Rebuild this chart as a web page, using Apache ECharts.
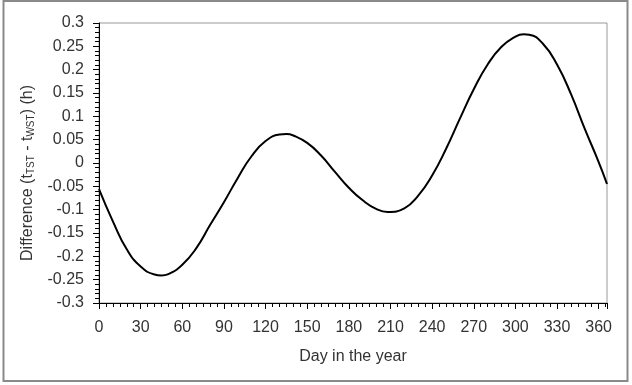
<!DOCTYPE html>
<html>
<head>
<meta charset="utf-8">
<script src="https://cdn.jsdelivr.net/npm/echarts@6/dist/echarts.min.js"></script>
<style>
html, body { margin: 0; padding: 0; background: #fff; }
#chart { width: 632px; height: 385px; }
</style>
</head>
<body>
<div id="chart"></div>
<script>
// day of the year
var days = [0, 10, 20, 30, 40, 45, 50, 60, 70, 80, 90, 100, 110, 120, 130, 135, 140, 150, 160, 170,
	180, 190, 200, 208, 220, 230, 240, 250, 260, 270, 280, 290, 300, 306, 310, 320, 330, 340, 350, 360, 366];
// difference tTST - tWST in hours
var diff = [-0.056, -0.125, -0.185, -0.222, -0.239, -0.241, -0.238, -0.218, -0.183, -0.133, -0.084, -0.032, 0.015, 0.047, 0.061, 0.062, 0.059, 0.043, 0.016, -0.019,
	-0.053, -0.080, -0.099, -0.105, -0.097, -0.070, -0.027, 0.030, 0.095, 0.158, 0.211, 0.249, 0.271, 0.276, 0.275, 0.255, 0.211, 0.148, 0.073, 0.002, -0.045];

var points = [];
for (var i = 0; i < days.length; i++) {
	points.push([days[i], diff[i]]);
}

var font = '"Liberation Sans", Arial, sans-serif';
var txt = '#333';

var chart = echarts.init(document.getElementById('chart'));
var option = {
	animation: false,
	textStyle: { fontFamily: font },
	graphic: [{
		type: 'rect',
		shape: { x: 3.5, y: 1, width: 624, height: 380 },
		style: { fill: 'none', stroke: '#8a8a8a', lineWidth: 2 },
		silent: true
	}],
	grid: {
		left: 99,
		right: 25,
		top: 23,
		bottom: 82,
		show: true,
		borderColor: '#999',
		borderWidth: 1
	},
	xAxis: {
		type: 'value',
		min: 0,
		max: 366,
		interval: 30,
		name: 'Day in the year',
		nameLocation: 'middle',
		nameGap: 46,
		nameTextStyle: { color: txt, fontSize: 16, fontFamily: font },
		axisLine: { onZero: false, lineStyle: { color: '#000', width: 1 } },
		axisTick: { length: 6, lineStyle: { color: '#000' } },
		minorTick: { show: true, splitNumber: 6, length: 4, lineStyle: { color: '#000' } },
		axisLabel: { color: txt, fontSize: 16, margin: 17, showMaxLabel: false },
		splitLine: { show: false }
	},
	yAxis: {
		type: 'value',
		min: -0.3,
		max: 0.3,
		interval: 0.05,
		name: '{n|Difference (t}{s|TST}{n| - t}{s|WST}{n|) (h)}',
		nameLocation: 'middle',
		nameGap: 62,
		nameTextStyle: {
			color: txt,
			fontSize: 16,
			fontFamily: font,
			padding: [0, 20, 0, 0],
			rich: {
				n: { fontSize: 16, fontFamily: font, color: txt, lineHeight: 18, verticalAlign: 'middle' },
				s: { fontSize: 10, fontFamily: font, color: txt, lineHeight: 18, verticalAlign: 'bottom', padding: [6, 0, 0, 0] }
			}
		},
		axisLine: { onZero: false, lineStyle: { color: '#000', width: 1 } },
		axisTick: { length: 6, lineStyle: { color: '#000' } },
		minorTick: { show: true, splitNumber: 5, length: 4, lineStyle: { color: '#000' } },
		axisLabel: { color: txt, fontSize: 16, margin: 15 },
		splitLine: { show: false }
	},
	series: [{
		type: 'line',
		data: points,
		smooth: true,
		showSymbol: false,
		lineStyle: { color: '#000', width: 2 }
	}]
};
chart.setOption(option);
</script>
</body>
</html>
